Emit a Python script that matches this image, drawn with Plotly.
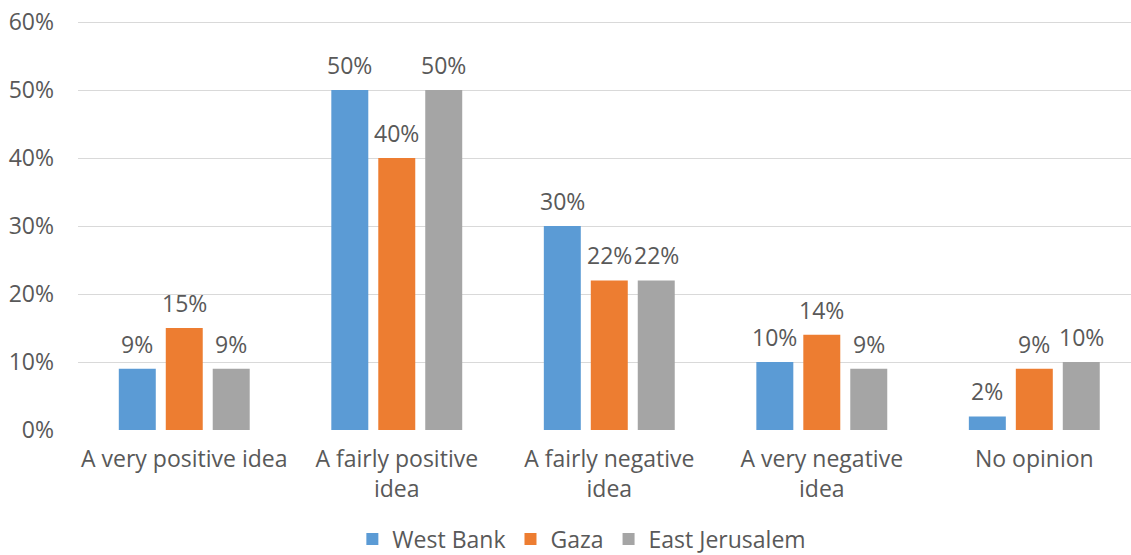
import plotly.graph_objects as go

categories = ["A very positive idea", "A fairly positive<br>idea", "A fairly negative<br>idea",
              "A very negative<br>idea", "No opinion"]
series_names = ["West Bank", "Gaza", "East Jerusalem"]
west_bank = [9, 50, 30, 10, 2]
gaza = [15, 40, 22, 14, 9]
east_jerusalem = [9, 50, 22, 9, 10]
colors = ["#5B9BD5", "#ED7D31", "#A5A5A5"]
y_ticks = [0, 10, 20, 30, 40, 50, 60]

offsets = [-0.308, -0.087, 0.134]
bar_w = 0.174
font = "'Open Sans', Lato, sans-serif"
tc = "#595959"
fs = 23

fig = go.Figure()
annotations = []
for name, vals, col, off in zip(series_names, [west_bank, gaza, east_jerusalem], colors, offsets):
    xs = list(range(len(categories)))
    fig.add_trace(go.Bar(
        x=xs, y=vals, name=name,
        marker=dict(color=col, line=dict(width=0)),
        width=bar_w, offset=off,
    ))
    for xi, v in zip(xs, vals):
        annotations.append(dict(x=xi + off + bar_w / 2, y=v, text=f"{v}%", showarrow=False,
                                xref="x", yref="y", yanchor="bottom", yshift=7,
                                font=dict(size=fs, color=tc, family=font)))

fig.update_layout(
    width=1131, height=555,
    margin=dict(l=78, r=0, t=20, b=125, autoexpand=False),
    barmode="overlay",
    paper_bgcolor="white", plot_bgcolor="white",
    font=dict(family=font, size=fs, color=tc),
    showlegend=True,
    annotations=annotations,
    legend=dict(orientation="h", x=0.4785, xanchor="center", y=-0.266, yanchor="middle",
                font=dict(size=fs, color=tc), traceorder="normal", itemclick=False,
                borderwidth=0),
    xaxis=dict(tickmode="array", tickvals=list(range(len(categories))), ticktext=categories,
               range=[-0.5, 4.455], showgrid=False, zeroline=False, showline=False,
               ticks="", tickfont=dict(size=fs, color=tc), automargin=False,
               ticklabelstandoff=13),
    yaxis=dict(range=[0, 60.3], tickmode="array", tickvals=y_ticks,
               ticktext=[f"{t}%" for t in y_ticks], showgrid=True, gridcolor="#D9D9D9",
               gridwidth=1.3, zeroline=False, showline=False, ticks="", ticklabelstandoff=23,
               tickfont=dict(size=fs, color=tc), automargin=False,
               ticklabeloverflow="allow"),
)
fig.write_html("out.html", config={"displayModeBar": False},
               post_script="document.body.style.margin='0px';document.body.style.overflow='hidden';")
